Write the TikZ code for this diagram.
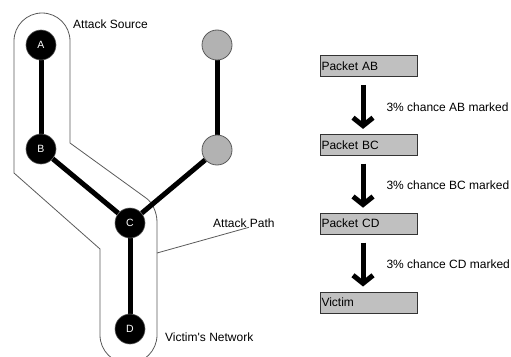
\documentclass[tikz,border=0pt]{standalone}
\usepackage{fontspec}
\setmainfont{Liberation Sans}
\usetikzlibrary{arrows.meta,positioning,backgrounds}
\definecolor{netGrey}{HTML}{B2B2B2}
\definecolor{netEdge}{HTML}{5A5A5A}
\definecolor{pktFill}{HTML}{C0C0C0}
\definecolor{pktLine}{HTML}{333333}
\tikzset{
  net/base/.style={circle, minimum size=30pt, inner sep=0pt,
    font=\fontsize{10.5}{12}\selectfont},
  net/hop/.style={net/base, fill=black, draw=netEdge, line width=0.6pt,
    text=white},
  net/idle/.style={net/base, fill=netGrey, draw=netEdge, line width=0.8pt},
  net/link/.style={draw=black, line width=5pt},
  net/zone/.style={draw=netEdge, line width=0.8pt},
  net/label/.style={font=\fontsize{12}{14}\selectfont, inner sep=0pt,
    anchor=west},
  pkt/box/.style={draw=pktLine, fill=pktFill, line width=0.8pt,
    text width=94pt, minimum height=21pt, inner xsep=1.5pt, inner ysep=0pt,
    align=left, font=\fontsize{12}{14}\selectfont},
  pkt/flow/.style={-{Straight Barb[length=8pt,width=20pt]}, draw=black,
    line width=5pt},
  pkt/note/.style={net/label},
}

\begin{document}
\begin{tikzpicture}[x=1pt, y=-1pt, node distance=57pt]
\useasboundingbox (0,0) rectangle (511,356);
% attack tree
\node[net/hop] (a) at (41,45) {A};
\node[net/hop] (b) at (41,149) {B};
\node[net/hop] (c) at (130,223) {C};
\node[net/hop] (d) at (130,329) {D};
\node[net/idle] (g1) at (217,45) {};
\node[net/idle] (g2) at (217,150) {};
\coordinate (zonept) at (157,253);

\begin{scope}[on background layer]
\draw[net/zone] (14,173) -- (14,41) arc[start angle=180, end angle=360, radius=28]
  -- (70,143) -- (146,198) .. controls (152,202) and (157,212) .. (157,222)
  -- (157,335) arc[start angle=0, end angle=180, radius=28.5]
  -- (100,249) -- cycle;
\draw[net/link] (a) -- (b);
\draw[net/link] (b) -- (c);
\draw[net/link] (c) -- (d);
\draw[net/link] (g1) -- (g2);
\draw[net/link] (g2) -- (c);
\end{scope}

\node[net/label] (src) at (73,24) {Attack Source};
\node[net/label] (apath) at (213,223) {Attack Path};
\node[net/label] (vnet) at (165,337) {Victim\textquotesingle s Network};
\draw[net/zone] (zonept) -- ([xshift=36pt]apath.base west);

% packet marking
\node[pkt/box] (pab) at (368.5,66) {Packet AB};
\node[pkt/box, below=of pab] (pbc) {Packet BC};
\node[pkt/box, below=of pbc] (pcd) {Packet CD};
\node[pkt/box, below=of pcd] (vic) {Victim};

\draw[pkt/flow] ([xshift=-5.5pt,yshift=-8pt]pab.south)
  -- node[pkt/note, right=21pt] (nab) {3\% chance AB marked}
  ([xshift=-5.5pt,yshift=5pt]pbc.north);
\draw[pkt/flow] ([xshift=-5.5pt,yshift=-8pt]pbc.south)
  -- node[pkt/note, right=21pt] (nbc) {3\% chance BC marked}
  ([xshift=-5.5pt,yshift=5pt]pcd.north);
\draw[pkt/flow] ([xshift=-5.5pt,yshift=-8pt]pcd.south)
  -- node[pkt/note, right=21pt] (ncd) {3\% chance CD marked}
  ([xshift=-5.5pt,yshift=5pt]vic.north);
\end{tikzpicture}
\end{document}
